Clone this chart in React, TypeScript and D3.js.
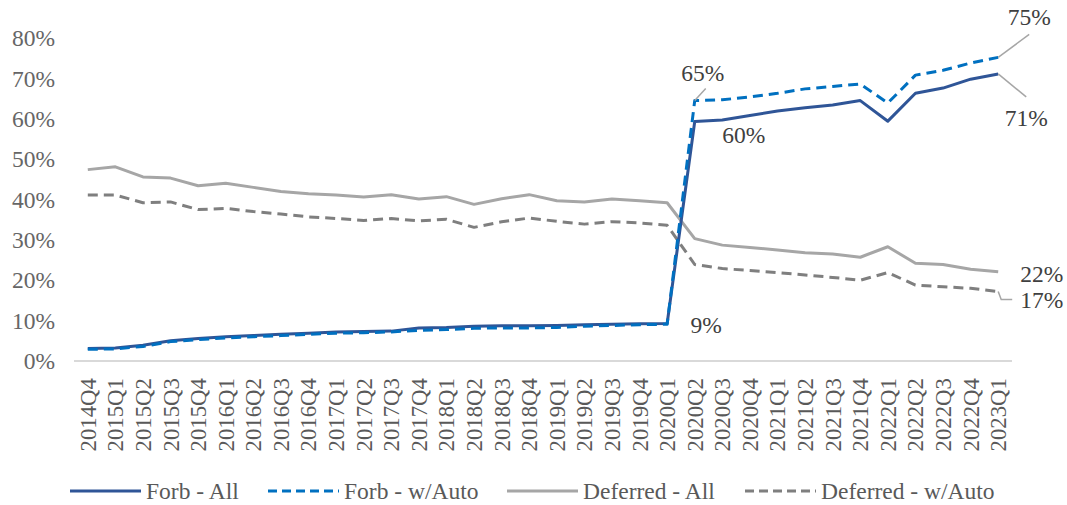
import React from "react";
import * as d3 from "d3";

const categories = [
  "2014Q4","2015Q1","2015Q2","2015Q3","2015Q4","2016Q1","2016Q2","2016Q3","2016Q4",
  "2017Q1","2017Q2","2017Q3","2017Q4","2018Q1","2018Q2","2018Q3","2018Q4",
  "2019Q1","2019Q2","2019Q3","2019Q4","2020Q1","2020Q2","2020Q3","2020Q4",
  "2021Q1","2021Q2","2021Q3","2021Q4","2022Q1","2022Q2","2022Q3","2022Q4","2023Q1",
];

const forbAll = [3.1,3.2,3.9,5.0,5.6,6.0,6.3,6.6,6.9,7.2,7.3,7.4,8.2,8.3,8.6,8.7,8.7,8.8,9.0,9.1,9.2,9.3,
  59.3,59.7,60.8,61.9,62.7,63.4,64.5,59.4,66.3,67.6,69.8,71.1];
const forbAuto = [2.9,3.0,3.6,4.8,5.3,5.7,6.0,6.3,6.6,6.9,7.0,7.2,7.6,7.8,8.1,8.2,8.2,8.3,8.6,8.8,9.0,9.1,
  64.5,64.7,65.4,66.3,67.4,68.0,68.6,63.9,70.8,72.0,73.8,75.2];
const deferredAll = [47.4,48.1,45.6,45.3,43.4,44.0,43.0,42.0,41.4,41.1,40.6,41.2,40.1,40.7,38.8,40.2,41.2,39.7,39.4,40.1,39.7,39.2,
  30.3,28.7,28.1,27.5,26.8,26.5,25.7,28.3,24.2,23.9,22.7,22.1];
const deferredAuto = [41.1,41.1,39.2,39.4,37.5,37.8,37.0,36.4,35.7,35.3,34.8,35.3,34.7,35.1,33.1,34.5,35.4,34.6,33.9,34.5,34.2,33.6,
  23.9,22.9,22.4,21.9,21.3,20.7,20.0,21.9,18.8,18.4,18.0,17.2];

const yTicks = [0, 10, 20, 30, 40, 50, 60, 70, 80];
const seriesNames = ["Forb - All", "Forb - w/Auto", "Deferred - All", "Deferred - w/Auto"];

const FONT = "'Liberation Serif', 'Times New Roman', serif";
const W = 1067, H = 505;

export default function App() {
  const x = d3.scaleBand<string>().domain(categories).range([74, 1012]);
  const cx = (i: number) => (x(categories[i]) as number) + x.bandwidth() / 2;
  const y = d3.scaleLinear().domain([0, 80]).range([361, 38]);

  const series = [
    { name: seriesNames[0], values: forbAll, color: "#2F5597", dash: undefined, legendX: 70 },
    { name: seriesNames[1], values: forbAuto, color: "#0070C0", dash: "10 6", legendX: 268 },
    { name: seriesNames[2], values: deferredAll, color: "#A6A6A6", dash: undefined, legendX: 507 },
    { name: seriesNames[3], values: deferredAuto, color: "#7F7F7F", dash: "10 6", legendX: 745 },
  ];
  const drawOrder = [2, 3, 0, 1];

  const line = d3.line<number>().x((_, i) => cx(i)).y((d) => y(d));

  const last = categories.length - 1;
  const px = (i: number) => cx(i);
  const py = (vals: number[], i: number) => y(vals[i]);

  const textColor = "#404040";
  const leader = "#A6A6A6";

  return (
    <svg width={W} height={H} style={{ position: "absolute", left: 0, top: 0, background: "#fff" }}>
      {/* y tick labels */}
      {yTicks.map((t) => (
        <text key={t} x={55} y={y(t)} dy="0.35em" textAnchor="end" fontFamily={FONT} fontSize={23.5} fill="#666666">
          {t}%
        </text>
      ))}
      {/* x axis line */}
      <line x1={74} x2={1012} y1={y(0)} y2={y(0)} stroke="#D9D9D9" strokeWidth={2} />
      {/* x tick labels */}
      {categories.map((c, i) => (
        <text key={c} transform={`translate(${cx(i)},${378}) rotate(-90)`} textAnchor="end" dy="0.35em"
          fontFamily={FONT} fontSize={22.8} fill="#595959">
          {c}
        </text>
      ))}
      {/* series */}
      {drawOrder.map((k) => {
        const s = series[k];
        return (
          <path key={s.name} d={line(s.values) as string} fill="none" stroke={s.color} strokeWidth={3}
            strokeDasharray={s.dash} strokeLinejoin="round" />
        );
      })}
      {/* annotations */}
      <g fontFamily={FONT} fontSize={23.5} fill={textColor}>
        <line x1={px(last)} y1={py(forbAuto, last)} x2={px(last) + 31} y2={py(forbAuto, last) - 23} stroke={leader} strokeWidth={1.5} />
        <text x={px(last) + 31} y={py(forbAuto, last) - 32} textAnchor="middle">75%</text>
        <line x1={px(last)} y1={py(forbAll, last)} x2={px(last) + 28} y2={py(forbAll, last) + 23} stroke={leader} strokeWidth={1.5} />
        <text x={px(last) + 28} y={py(forbAll, last) + 52} textAnchor="middle">71%</text>
        <line x1={px(22)} y1={py(forbAuto, 22)} x2={px(22) + 11} y2={py(forbAuto, 22) - 12} stroke={leader} strokeWidth={1.5} />
        <text x={px(22) + 8} y={py(forbAuto, 22) - 20} textAnchor="middle">65%</text>
        <text x={px(22) + 49} y={py(forbAll, 22) + 21} textAnchor="middle">60%</text>
        <text x={px(21) + 39} y={py(forbAll, 21) + 10} textAnchor="middle">9%</text>
        <text x={px(last) + 22} y={py(deferredAll, last) + 10} textAnchor="start">22%</text>
        <path d={`M${px(last)},${py(deferredAuto, last)} L${px(last) + 3},${py(deferredAuto, last) + 8} L${px(last) + 14},${py(deferredAuto, last) + 8}`}
          fill="none" stroke={leader} strokeWidth={1.5} />
        <text x={px(last) + 22} y={py(deferredAuto, last) + 16} textAnchor="start">17%</text>
      </g>
      {/* legend */}
      {series.map((s) => (
        <g key={s.name}>
          <line x1={s.legendX} x2={s.legendX + 71} y1={491} y2={491} stroke={s.color} strokeWidth={3}
            strokeDasharray={s.dash ? "9 5" : undefined} />
          <text x={s.legendX + 76} y={491} dy="0.35em" fontFamily={FONT} fontSize={23.5} fill="#595959">
            {s.name}
          </text>
        </g>
      ))}
    </svg>
  );
}
